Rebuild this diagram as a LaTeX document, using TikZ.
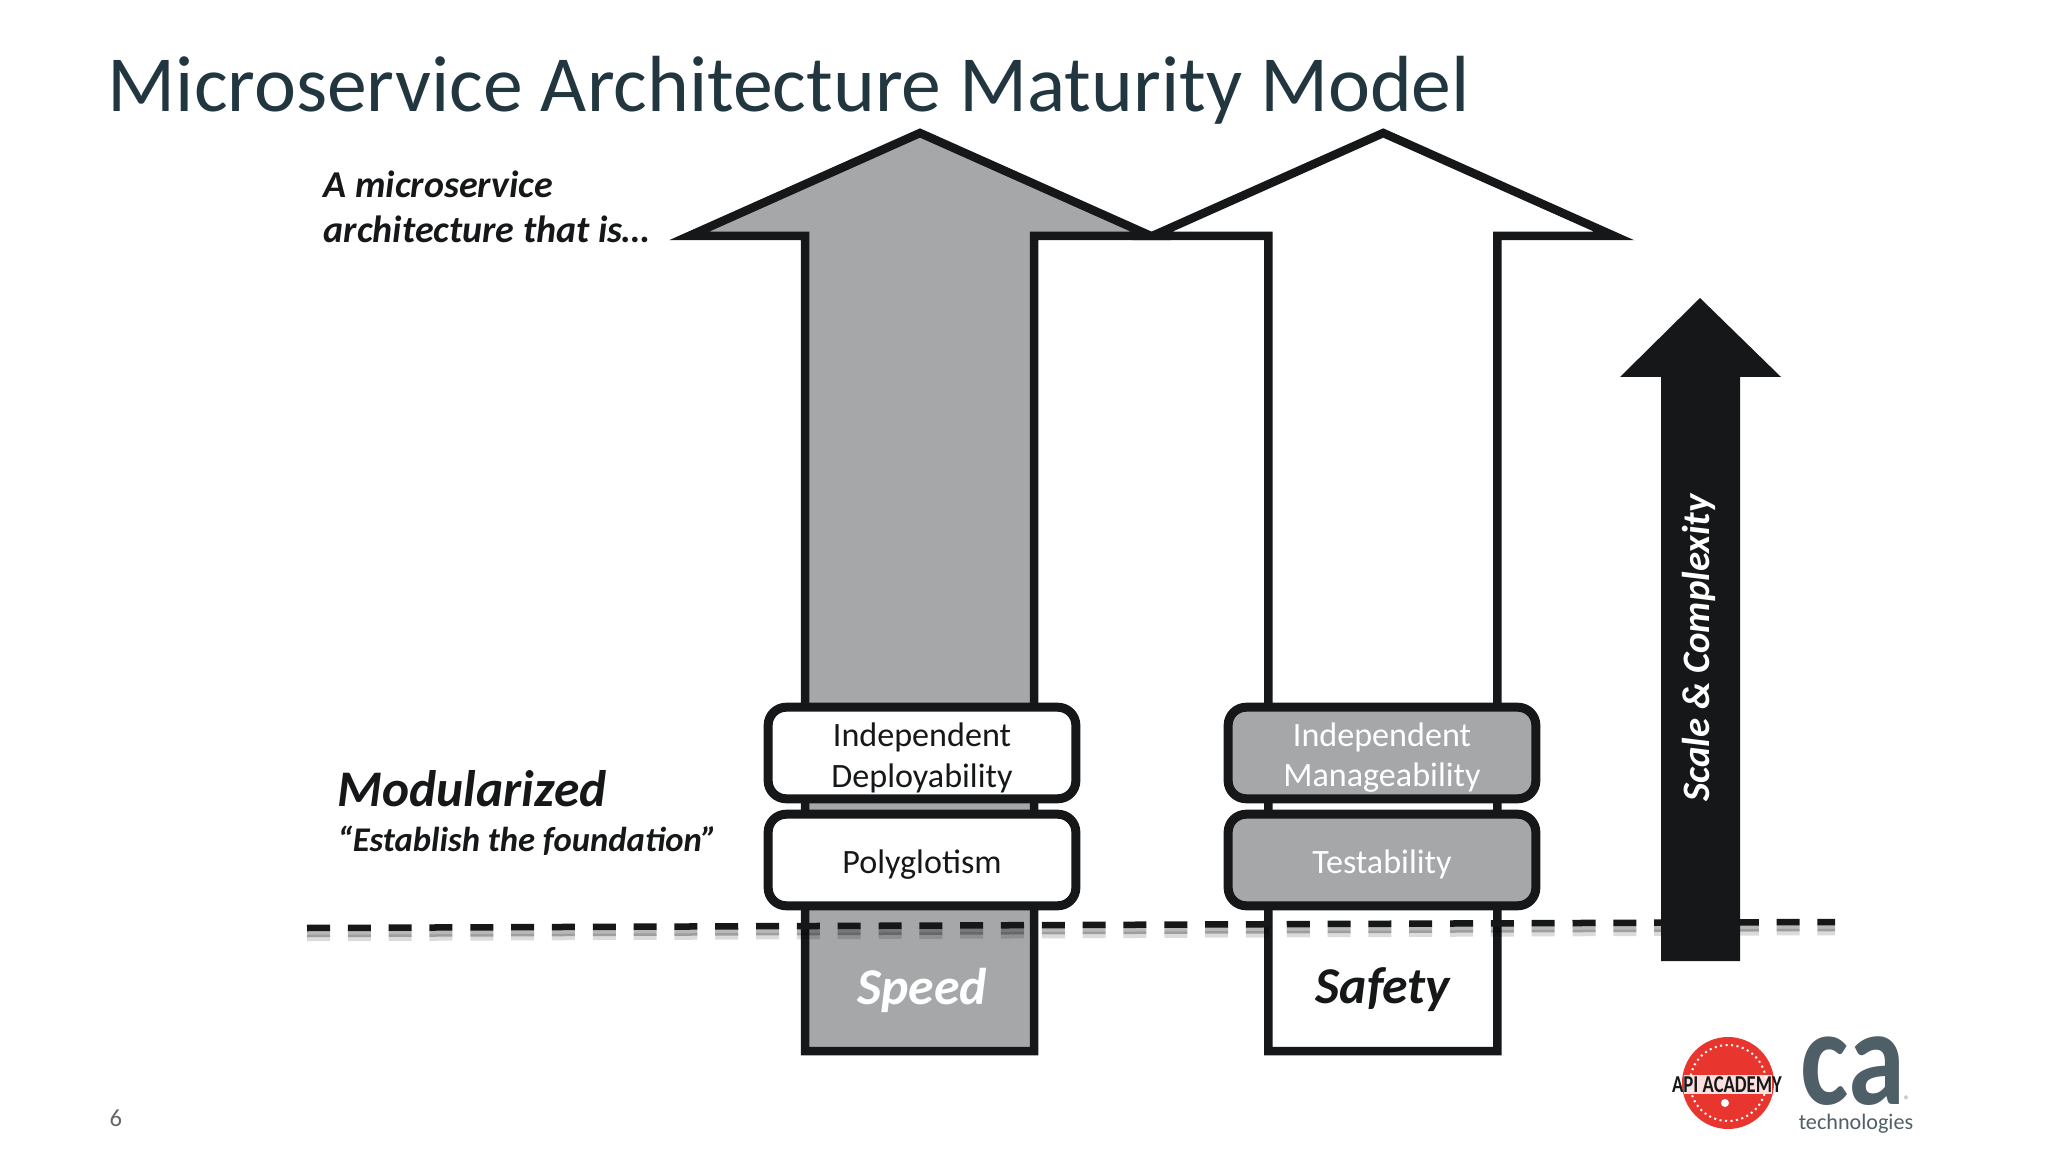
\documentclass[tikz,border=0pt]{standalone}
\usepackage{fontspec}
\setmainfont{Carlito}
\usetikzlibrary{positioning}
\definecolor{titleink}{HTML}{22363F}
\definecolor{ink}{HTML}{151718}
\definecolor{midgray}{HTML}{A6A7A9}
\definecolor{caslate}{HTML}{4E5F68}
\definecolor{apired}{HTML}{E8352E}
\newcommand{\pushdown}{\rule{0pt}{0.33cm}}
\tikzset{
  outline/.style={draw=ink, line width=0.085cm, miter limit=10},
  trait/.style={draw=ink, line width=0.09cm, rounded corners=0.18cm, minimum width=3.075cm,
    minimum height=0.915cm, inner sep=0pt, align=center,
    font=\fontsize{9.7}{11.6}\selectfont},
  freetext/.style={inner sep=0pt, anchor=base west, align=left, text=ink,
    font=\fontsize{10.8}{13}\selectfont\bfseries\itshape},
  pillar/.style={inner sep=0pt, font=\fontsize{14.7}{16}\selectfont\bfseries\itshape},
  cutline/.style={line width=0.065cm, dash pattern=on 0.23cm off 0.178cm}
}
\begin{document}
\begin{tikzpicture}[x=0.01cm, y=-0.01cm]
  \useasboundingbox (0,0) rectangle (2048,1152);
  \node[inner sep=0pt, anchor=base west, text=titleink, font=\fontsize{22.64}{26}\selectfont] (title)
    at (107,112) {Microservice Architecture Maturity Model};

  % white arrow first, the grey wing sits on it
  \begin{scope}[xshift=4.63cm]
    \draw[outline, fill=white] (920,133) -- (1151,236) -- (1034,236) -- (1034,1051)
      -- (805,1051) -- (805,236) -- (689,236) -- cycle;
  \end{scope}
  \draw[outline, fill=midgray] (920,133) -- (1151,236) -- (1034,236) -- (1034,1051)
    -- (805,1051) -- (805,236) -- (689,236) -- cycle;

  \node[trait, fill=white, text=ink] (deploy) at (922,753) {\pushdown Independent\\Deployability};
  \node[trait, fill=white, text=ink] (poly) at (922,860) {\pushdown Polyglotism};
  \node[trait, fill=midgray, text=white] (manage) at (1382,753) {\pushdown Independent\\Manageability};
  \node[trait, fill=midgray, text=white] (test) at (1382,860) {\pushdown Testability};

  \node[pillar, text=white] (speed) at (922,990) {Speed};
  \node[pillar, text=ink] (safety) at (1383,990) {Safety};

  \coordinate (cutL) at (307,928);
  \coordinate (cutR) at (1835,922);
  \draw[cutline, draw=black, opacity=0.14] ([yshift=-0.1cm]cutL) -- ([yshift=-0.1cm]cutR);
  \draw[cutline, draw=black, opacity=0.28] ([yshift=-0.06cm]cutL) -- ([yshift=-0.06cm]cutR);
  \draw[cutline, draw=ink] (cutL) -- (cutR);

  \fill[ink] (1700,298) -- (1781,377) -- (1740,377) -- (1740,961) -- (1661,961)
    -- (1661,377) -- (1620,377) -- cycle;
  \node[inner sep=0pt, rotate=90, text=white, font=\fontsize{11.05}{13}\selectfont\bfseries\itshape]
    (scale) at (1699,648) {Scale \& Complexity};

  \node[freetext] (intro) at (323,243) {A microservice\\architecture that is…};
  \node[freetext, font=\fontsize{14.6}{16}\selectfont\bfseries\itshape] (modular) at (337,806) {Modularized};
  \node[freetext, font=\fontsize{9.85}{12}\selectfont\bfseries\itshape] (found) at (337,851) {“Establish the foundation”};
  \node[inner sep=0pt, anchor=base west, text=black!60, font=\fontsize{7}{8}\selectfont] (page)
    at (109,1126) {6};

  % logos
  \fill[apired] (1728,1083) circle (46);
  \draw[white, line width=0.02cm, densely dotted] (1728,1083) circle (38);
  \fill[white, opacity=0.85] (1684,1075) rectangle (1772,1094);
  \node[inner sep=0pt, xscale=0.77, text=ink, font=\fontsize{6.9}{7}\selectfont\bfseries] (academy)
    at (1727,1085) {API ACADEMY};
  \fill[white] (1725,1103) circle (4);
  \node[inner sep=0pt, anchor=base, xscale=0.84, text=caslate, font=\fontsize{39}{40}\selectfont\bfseries] (ca)
    at (1853,1104) {ca};
  \node[inner sep=0pt, anchor=base, text=caslate!70, font=\fontsize{3.5}{4}\selectfont] (reg)
    at (1907,1104) {®};
  \node[inner sep=0pt, anchor=base, text=caslate, font=\fontsize{6.3}{8}\selectfont] (tech)
    at (1856,1129) {technologies};
\end{tikzpicture}
\end{document}
